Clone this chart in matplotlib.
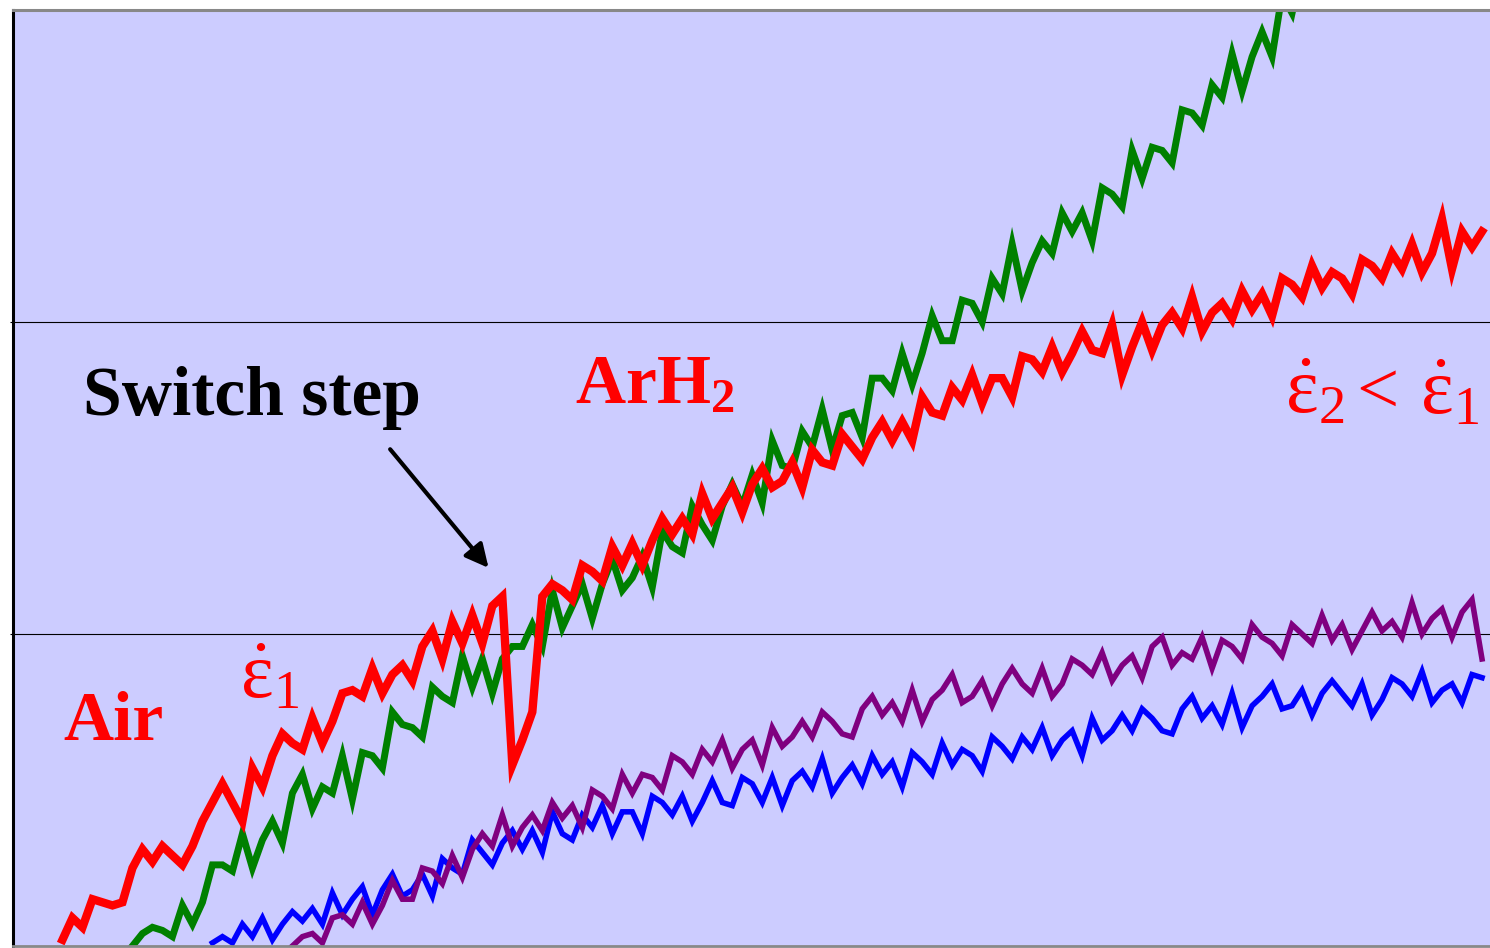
import numpy as np
import matplotlib
matplotlib.use("Agg")
import matplotlib.pyplot as plt

# estilo das fontes (serifada, tipo Times)
plt.rcParams['font.family'] = ['Liberation Serif', 'DejaVu Serif']
plt.rcParams['mathtext.fontset'] = 'custom'
plt.rcParams['mathtext.rm'] = 'Liberation Serif'
plt.rcParams['mathtext.it'] = 'Liberation Serif:italic'
plt.rcParams['mathtext.bf'] = 'Liberation Serif:bold'

# Curvas (eixo y: linhas de grade em 100 e 200, topo em 300)
red_x0 = 5
red = [2, 9, 6, 15, 14, 13, 14, 25, 31, 27,
       32, 29, 26, 32, 40, 46, 52, 46, 40, 57,
       51, 61, 68, 65, 63, 73, 65, 72, 81, 82,
       80, 89, 81, 87, 90, 85, 96, 101, 92, 104,
       97, 106, 97, 109, 112, 58, 66, 75, 112, 116,
       114, 111, 122, 120, 117, 128, 122, 129, 122, 130,
       137, 132, 137, 132, 145, 137, 142, 147, 139, 148,
       153, 147, 149, 155, 147, 159, 155, 154, 164, 160,
       156, 163, 168, 162, 168, 162, 176, 171, 170, 179,
       175, 183, 174, 182, 182, 176, 189, 188, 184, 192,
       184, 190, 197, 191, 190, 199, 183, 192, 200, 191,
       199, 203, 198, 208, 197, 203, 206, 201, 210, 204,
       209, 202, 214, 212, 208, 218, 211, 216, 214, 209,
       220, 218, 214, 222, 217, 225, 216, 222, 233, 217,
       229, 224, 229]

green_x0 = 12
green = [0, 4, 6, 5, 3, 13, 7, 14, 26, 26,
         24, 36, 25, 34, 40, 33, 49, 55, 44, 51,
         49, 61, 47, 62, 61, 57, 75, 71, 70, 67,
         83, 80, 78, 93, 83, 92, 81, 92, 96, 96,
         103, 96, 114, 102, 109, 116, 105, 116, 124, 114,
         118, 125, 115, 133, 128, 126, 141, 135, 130, 141,
         148, 141, 151, 142, 162, 154, 153, 165, 160, 172,
         159, 170, 171, 163, 182, 182, 178, 190, 180, 190,
         202, 194, 194, 207, 206, 200, 214, 209, 225, 210,
         219, 226, 222, 235, 229, 235, 226, 243, 241, 237,
         255, 246, 256, 255, 251, 268, 267, 263, 276, 272,
         286, 274, 285, 293, 285, 305, 299, 314]

blue_x0 = 20
blue = [1, 3, 1, 7, 3, 9, 2, 7, 11, 8,
        12, 7, 17, 10, 15, 19, 10, 18, 23, 16,
        18, 23, 16, 28, 25, 23, 34, 30, 26, 33,
        37, 31, 37, 30, 43, 36, 34, 42, 38, 45,
        36, 43, 43, 36, 48, 46, 42, 48, 40, 46,
        53, 46, 45, 54, 52, 46, 54, 45, 53, 56,
        51, 60, 49, 54, 58, 52, 61, 55, 59, 51,
        62, 59, 55, 65, 58, 63, 61, 56, 67, 64,
        60, 67, 63, 70, 61, 66, 69, 61, 73, 66,
        69, 74, 69, 76, 73, 69, 68, 76, 80, 73,
        77, 71, 81, 70, 77, 80, 84, 76, 77, 82,
        74, 81, 85, 81, 77, 84, 74, 79, 86, 84,
        80, 88, 78, 82, 84, 78, 87, 86]

purple_x0 = 28
purple = [0, 3, 4, 1, 9, 10, 7, 14, 7, 13,
          21, 15, 15, 25, 24, 20, 29, 22, 31, 36,
          32, 42, 32, 38, 42, 37, 46, 41, 45, 38,
          50, 48, 44, 55, 49, 55, 54, 50, 61, 59,
          55, 63, 59, 66, 57, 63, 66, 58, 70, 64,
          67, 72, 67, 75, 72, 68, 67, 76, 80, 74,
          78, 72, 82, 72, 79, 82, 87, 78, 80, 85,
          77, 84, 89, 84, 81, 89, 80, 84, 92, 90,
          87, 94, 85, 90, 93, 86, 96, 99, 90, 94,
          92, 99, 89, 98, 96, 92, 103, 99, 97, 93,
          103, 100, 97, 106, 98, 103, 95, 101, 107, 101,
          104, 99, 110, 100, 105, 108, 99, 107, 111, 92]

fig = plt.figure(figsize=(14.9, 9.48), dpi=100)
ax = fig.add_axes([12.5 / 1490, 2 / 948, 1 - 12.5 / 1490, 936 / 948])
ax.set_facecolor('#CCCCFF')

series = [(blue, blue_x0, '#0000FF', 4.0),
          (purple, purple_x0, '#800080', 4.0),
          (green, green_x0, '#008000', 5.0),
          (red, red_x0, '#FF0000', 6.0)]
for vals, x0, cor, lw in series:
    x = np.arange(x0, x0 + len(vals))
    ax.plot(x, vals, color=cor, linewidth=lw, solid_joinstyle='miter')

ax.set_xlim(0, 147.8)
ax.set_ylim(0, 300)
ax.set_xticks([])
ax.set_yticks([100, 200])
ax.set_yticklabels([])
ax.tick_params(axis='y', length=2, width=0.8, direction='out')
ax.grid(True, axis='y', color='black', linewidth=0.8)

ax.spines['left'].set_linewidth(2.2)
ax.spines['left'].set_color('black')
ax.spines['top'].set_linewidth(2.2)
ax.spines['top'].set_color('#888888')
ax.spines['bottom'].set_linewidth(2)
ax.spines['bottom'].set_color('#888888')
ax.spines['right'].set_visible(False)

# Textos
ax.text(7.1, 170.2, 'Switch step', fontsize=50, fontweight='bold', color='black',
        ha='left', va='baseline')
ax.annotate('', xy=(47.8, 120.5), xytext=(37.6, 159.9),
            arrowprops=dict(arrowstyle='-|>', color='black', lw=3,
                            mutation_scale=35))
ax.text(56.3, 174.0, r'$\mathbf{ArH_2}$', fontsize=50, color='red',
        ha='left', va='baseline')
ax.text(5.1, 66.0, 'Air', fontsize=50, fontweight='bold', color='red',
        ha='left', va='baseline')
ax.text(22.8, 79.8, r'$\dot{\mathrm{\varepsilon}}_1$', fontsize=56, color='red',
        ha='left', va='baseline')
ax.text(127.3, 170.8, r'$\dot{\mathrm{\varepsilon}}_2$', fontsize=56, color='red',
        ha='left', va='baseline')
ax.text(134.4, 170.8, '<', fontsize=54, color='red', ha='left', va='baseline')
ax.text(140.8, 170.8, r'$\dot{\mathrm{\varepsilon}}_1$', fontsize=56, color='red',
        ha='left', va='baseline')

plt.savefig('out.png', dpi=100)
